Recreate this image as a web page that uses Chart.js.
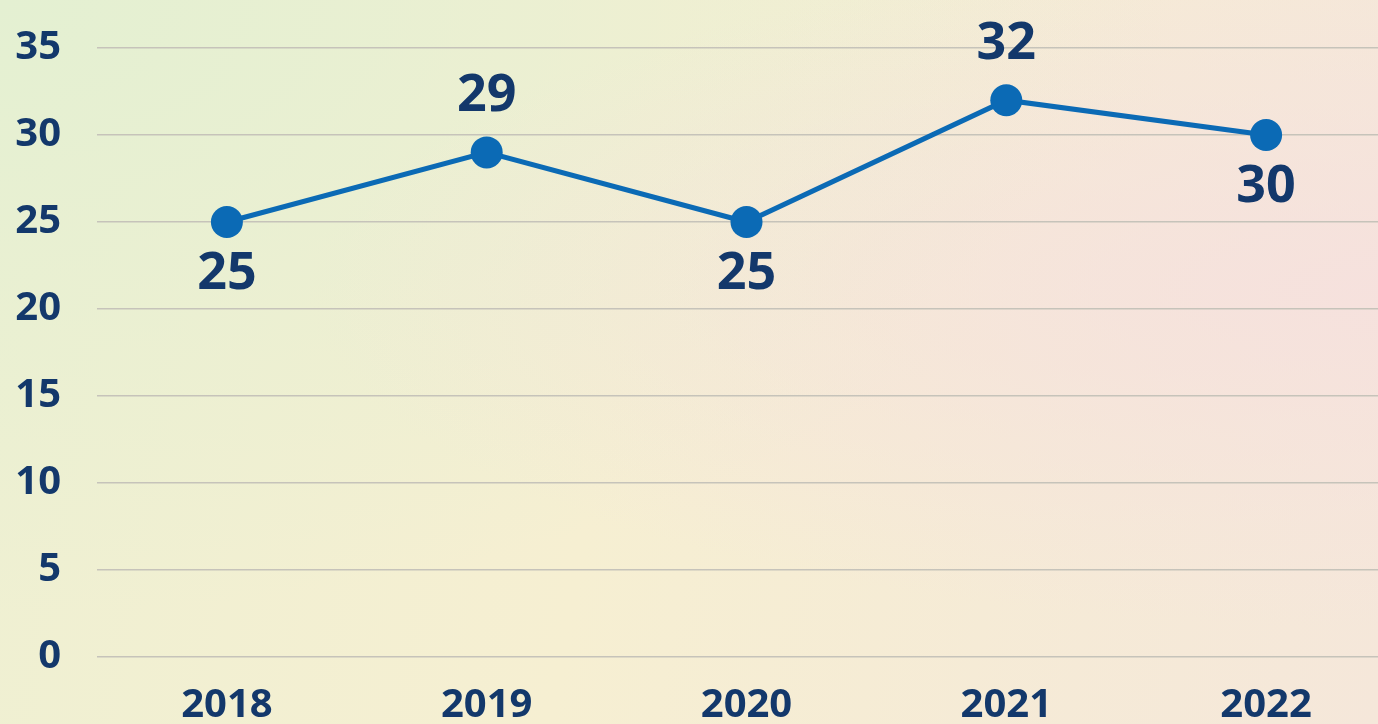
<!DOCTYPE html>
<html>
<head>
<meta charset="utf-8">
<script src="https://cdn.jsdelivr.net/npm/chart.js@4"></script>
<style>
  html, body { margin: 0; padding: 0; width: 1378px; height: 724px; overflow: hidden; }
  body {
    background:
      radial-gradient(ellipse at 100% 40%, rgba(246, 224, 222, 0.85) 0%, rgba(246, 224, 222, 0) 55%),
      radial-gradient(ellipse at 0% 0%, rgba(228, 240, 210, 1) 0%, rgba(228, 240, 210, 0) 60%),
      linear-gradient(100deg, #eef0d2 0%, #f6efd2 45%, #f5e7da 100%);
  }
  #wrap { position: relative; width: 1412px; height: 724px; }
</style>
</head>
<body>
<div id="wrap"><canvas id="myChart"></canvas></div>
<script>
/*  data  */
const years = ['2018', '2019', '2020', '2021', '2022'];
const values = [25, 29, 25, 32, 30];
const yTicks = [0, 5, 10, 15, 20, 25, 30, 35];

const navy = '#13386b';
const blue = '#0b6ab5';

// where each value label sits, relative to its point
const labelSide = ['below', 'above', 'below', 'above', 'below'];

const pointLabels = {
  id: 'pointLabels',
  afterDatasetsDraw(chart) {
    const ctx = chart.ctx;
    const meta = chart.getDatasetMeta(0);
    ctx.save();
    ctx.font = '700 52px "Open Sans"';
    ctx.fillStyle = navy;
    ctx.textAlign = 'center';
    ctx.textBaseline = 'middle';
    meta.data.forEach(function (pt, i) {
      const dy = labelSide[i] === 'above' ? -56 : 52;
      ctx.fillText(String(values[i]), pt.x, pt.y + dy);
    });
    ctx.restore();
  }
};

Chart.defaults.font.family = '"Open Sans", sans-serif';

new Chart(document.getElementById('myChart'), {
  type: 'line',
  data: {
    labels: years,
    datasets: [{
      data: values,
      borderColor: blue,
      backgroundColor: blue,
      borderWidth: 5,
      pointRadius: 16,
      pointHoverRadius: 16,
      pointBackgroundColor: blue,
      pointBorderWidth: 0,
      fill: false,
      tension: 0
    }]
  },
  options: {
    responsive: true,
    maintainAspectRatio: false,
    animation: false,
    layout: { padding: { top: 0, right: 6, bottom: 0, left: 0 } },
    plugins: {
      legend: { display: false },
      tooltip: { enabled: false }
    },
    scales: {
      x: {
        offset: true,
        grid: { display: false, drawTicks: false },
        border: { display: false },
        ticks: {
          color: navy,
          padding: 25,
          font: { size: 40, weight: '700' }
        },
        afterFit: function (scale) { scale.height = 67; }
      },
      y: {
        min: 0,
        max: 35,
        afterBuildTicks: function (scale) {
          scale.ticks = yTicks.map(function (v) { return { value: v }; });
        },
        grid: { color: '#c6c3ba', lineWidth: 1.5, drawTicks: false },
        border: { display: false },
        ticks: {
          color: navy,
          padding: 36,
          font: { size: 40, weight: '700', lineHeight: 0.6 }
        },
        afterFit: function (scale) { scale.width = 97; }
      }
    }
  },
  plugins: [pointLabels]
});
</script>
</body>
</html>
